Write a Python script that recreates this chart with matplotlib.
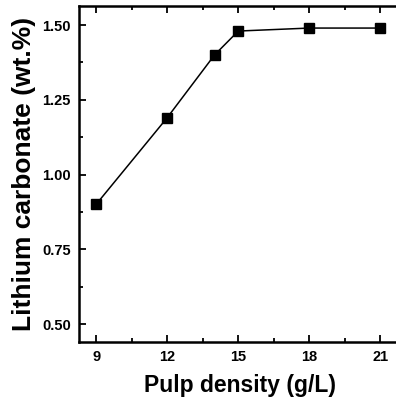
import matplotlib
matplotlib.use('Agg')
import matplotlib.pyplot as plt
from matplotlib.ticker import MultipleLocator

# data
pulp_density = [9, 12, 14, 15, 18, 21]
li2co3 = [0.90, 1.19, 1.40, 1.48, 1.49, 1.49]

plt.rcParams['font.family'] = 'Liberation Sans'
plt.rcParams['font.weight'] = 'bold'

fig = plt.figure(figsize=(3.96, 4.05), dpi=100)
ax = fig.add_axes([0.1995, 0.1556, 0.815, 0.829])

ax.plot(pulp_density, li2co3, color='black', linewidth=1.1, marker='s',
        markersize=7.5, markerfacecolor='black', markeredgecolor='black')

ax.set_xlim(8.28, 21.9)
ax.set_ylim(0.44, 1.563)
ax.set_xticks([9, 12, 15, 18, 21])
ax.xaxis.set_minor_locator(MultipleLocator(1.5))
ax.set_yticks([0.50, 0.75, 1.00, 1.25, 1.50])
ax.yaxis.set_minor_locator(MultipleLocator(0.125))
ax.set_yticklabels(['0.50', '0.75', '1.00', '1.25', '1.50'])

ax.tick_params(which='both', direction='in', top=True, right=False, width=1.3)
ax.tick_params(which='major', length=5, labelsize=10.5, pad=6)
ax.tick_params(which='minor', length=3)
for s in ax.spines.values():
    s.set_linewidth(1.8)
ax.spines['right'].set_visible(False)

ax.set_xlabel('Pulp density (g/L)', fontsize=16.5, fontweight='bold', labelpad=7)
ax.set_ylabel('Lithium carbonate (wt.%)', fontsize=19, fontweight='bold', labelpad=4)

fig.savefig('out.png', dpi=100)
